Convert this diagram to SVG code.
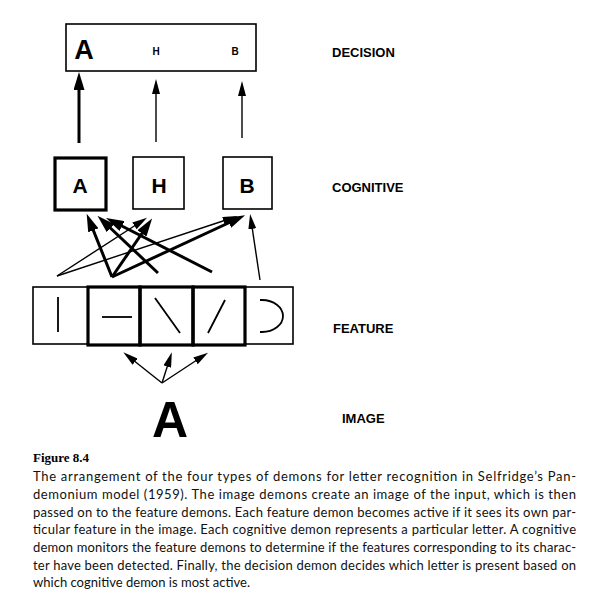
<svg xmlns="http://www.w3.org/2000/svg" width="596" height="610" viewBox="0 0 596 610">
<style>
.box{fill:#fff;stroke:#000;stroke-width:1.6}
.tbox{fill:none;stroke:#000;stroke-width:3.2}
.lbl{font-family:"Liberation Sans",Arial,sans-serif;font-weight:bold;font-size:13px;fill:#000}
.let{font-family:"Liberation Sans",Arial,sans-serif;font-weight:bold;fill:#000;text-anchor:middle}
.feat{fill:none;stroke:#000;stroke-width:1.8}
.thin{fill:none;stroke:#000;stroke-width:1.4}
.thick{fill:none;stroke:#000;stroke-width:3}
.cap{font-family:Lato,"Open Sans","Noto Sans",sans-serif;font-size:13px;fill:#111}
.fig{font-family:"Liberation Serif","Times New Roman",serif;font-weight:bold;font-size:13px;fill:#000}
</style>
<defs>
<marker id="ah" markerUnits="userSpaceOnUse" markerWidth="15" markerHeight="8" viewBox="0 0 15 8" refX="9" refY="4" orient="auto">
<path d="M0,0 L15,4 L0,8 Z" fill="#000"/>
</marker>
<marker id="ahT" markerUnits="userSpaceOnUse" markerWidth="18" markerHeight="11" viewBox="0 0 18 11" refX="9" refY="5.5" orient="auto">
<path d="M0,0 L18,5.5 L0,11 Z" fill="#000"/>
</marker>
</defs>

<g id="decision">
<rect class="box" x="66" y="24" width="190" height="47"/>
<text class="let" x="84" y="59" font-size="27">A</text>
<text class="let" x="156" y="55" font-size="10">H</text>
<text class="let" x="235" y="55" font-size="10">B</text>
</g>

<g id="cog-A">
<rect class="tbox" x="55" y="158" width="51" height="52"/>
<text class="let" x="80" y="193" font-size="21">A</text>
</g>
<g id="cog-H">
<rect class="box" x="133" y="157" width="51" height="52"/>
<text class="let" x="159" y="193" font-size="21">H</text>
</g>
<g id="cog-B">
<rect class="box" x="223" y="157" width="49" height="52"/>
<text class="let" x="247" y="193" font-size="21">B</text>
</g>

<g id="feat-vertical">
<rect class="box" x="33" y="287" width="55" height="57"/>
<line class="feat" x1="58" y1="297" x2="58" y2="332"/>
</g>
<g id="feat-curve">
<rect class="box" x="245" y="287" width="48" height="57"/>
<path class="feat" d="M260,300 L262,300 A21,16 0 0 1 262,332 L260,332"/>
</g>
<g id="feat-horizontal">
<rect class="tbox" x="88" y="287" width="52" height="58"/>
<line class="feat" x1="102" y1="317" x2="132" y2="317"/>
</g>
<g id="feat-backslash">
<rect class="tbox" x="140" y="287" width="53" height="58"/>
<line class="feat" x1="155" y1="298" x2="180" y2="333"/>
</g>
<g id="feat-slash">
<rect class="tbox" x="193" y="287" width="52" height="58"/>
<line class="feat" x1="208" y1="333" x2="225" y2="300"/>
</g>

<g id="image">
<text class="let" x="170" y="437" font-size="50">A</text>
</g>

<g id="labels">
<text class="lbl" x="332" y="57">DECISION</text>
<text class="lbl" x="332" y="192">COGNITIVE</text>
<text class="lbl" x="333" y="333">FEATURE</text>
<text class="lbl" x="342" y="423">IMAGE</text>
</g>

<g id="connectors">
<line class="thick" x1="79" y1="143" x2="79" y2="81" marker-end="url(#ahT)"/>
<line class="thin" x1="156" y1="142" x2="156" y2="85" marker-end="url(#ah)"/>
<line class="thin" x1="242" y1="138" x2="242" y2="87" marker-end="url(#ah)"/>

<line class="thin" x1="57" y1="276" x2="142" y2="221" marker-end="url(#ah)"/>
<line class="thin" x1="57" y1="276" x2="232" y2="218" marker-end="url(#ah)"/>
<line class="thick" x1="112" y1="277" x2="90" y2="222" marker-end="url(#ahT)"/>
<line class="thick" x1="112" y1="277" x2="147" y2="226" marker-end="url(#ahT)"/>
<line class="thick" x1="112" y1="277" x2="237" y2="219" marker-end="url(#ahT)"/>
<line class="thick" x1="158" y1="273" x2="104" y2="222" marker-end="url(#ahT)"/>
<line class="thick" x1="212" y1="272" x2="114" y2="222" marker-end="url(#ahT)"/>
<line class="thin" x1="260" y1="280" x2="251" y2="220" marker-end="url(#ah)"/>

<line class="thin" x1="162" y1="383" x2="128" y2="356" marker-end="url(#ah)"/>
<line class="thin" x1="162" y1="383" x2="170" y2="358" marker-end="url(#ah)"/>
<line class="thin" x1="162" y1="383" x2="203" y2="356" marker-end="url(#ah)"/>
</g>

<g id="caption">
<text class="fig" x="33" y="462">Figure 8.4</text>
<text class="cap" x="33" y="481" textLength="543" lengthAdjust="spacing">The arrangement of the four types of demons for letter recognition in Selfridge’s Pan-</text>
<text class="cap" x="33" y="499" textLength="543" lengthAdjust="spacing">demonium model (1959). The image demons create an image of the input, which is then</text>
<text class="cap" x="33" y="517" textLength="543" lengthAdjust="spacing">passed on to the feature demons. Each feature demon becomes active if it sees its own par-</text>
<text class="cap" x="33" y="534" textLength="543" lengthAdjust="spacing">ticular feature in the image. Each cognitive demon represents a particular letter. A cognitive</text>
<text class="cap" x="33" y="552" textLength="543" lengthAdjust="spacing">demon monitors the feature demons to determine if the features corresponding to its charac-</text>
<text class="cap" x="33" y="570" textLength="543" lengthAdjust="spacing">ter have been detected. Finally, the decision demon decides which letter is present based on</text>
<text class="cap" x="33" y="587" textLength="217" lengthAdjust="spacing">which cognitive demon is most active.</text>
</g>
</svg>
